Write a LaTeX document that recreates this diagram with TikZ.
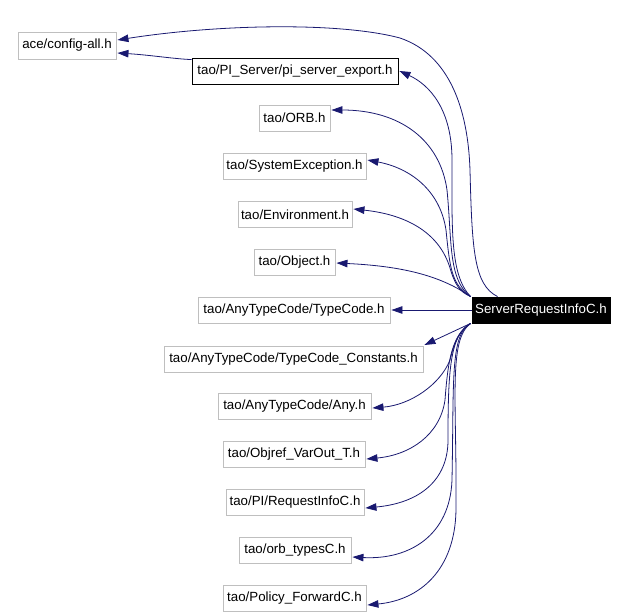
\documentclass[tikz,border=0pt]{standalone}
\usepackage{fontspec}
\setmainfont{Liberation Sans}
\usetikzlibrary{arrows.meta,calc}
\definecolor{edgeblue}{HTML}{191970}
\definecolor{boxgray}{HTML}{BFBFBF}
\begin{document}
\begin{tikzpicture}[x=1pt,y=-1pt,
  box/.style={draw=boxgray,line width=0.9pt,fill=white,inner sep=0pt,minimum height=26pt,font=\fontsize{13.3}{15}\selectfont},
  blackbox/.style={box,draw=black},
  srcbox/.style={box,draw=black,fill=black,text=white},
  edge/.style={draw=edgeblue,line width=0.8pt,{Triangle[length=11pt,width=7.5pt]}-}]
\useasboundingbox (0,0) rectangle (627,616);
\node[box,minimum width=98pt,minimum height=27pt] (cfg) at (67,45.5) {ace/config-all.h};
\node[blackbox,minimum width=206pt] (pi) at (295,71) {tao/PI\_Server/pi\_server\_export.h};
\node[box,minimum width=71pt] (orb) at (294.5,118) {tao/ORB.h};
\node[box,minimum width=143pt] (sysexc) at (294.5,166) {tao/SystemException.h};
\node[box,minimum width=114pt] (env) at (295,214.5) {tao/Environment.h};
\node[box,minimum width=81pt] (obj) at (294.5,262) {tao/Object.h};
\node[box,minimum width=192pt] (tc) at (294,310) {tao/AnyTypeCode/TypeCode.h};
\node[srcbox,minimum width=138pt] (sri) at (541,310) {ServerRequestInfoC.h};
\node[box,minimum width=259pt] (tcc) at (293.5,359) {tao/AnyTypeCode/TypeCode\_Constants.h};
\node[box,minimum width=153pt] (any) at (294.5,406) {tao/AnyTypeCode/Any.h};
\node[box,minimum width=142pt] (objref) at (294,454.5) {tao/Objref\_VarOut\_T.h};
\node[box,minimum width=138pt] (reqinfo) at (295,502) {tao/PI/RequestInfoC.h};
\node[box,minimum width=112pt] (orbtypes) at (295,550) {tao/orb\_typesC.h};
\node[box,minimum width=143pt] (policy) at (294.5,598) {tao/Policy\_ForwardC.h};

% pi -> cfg
\draw[edge] ($(cfg.east)+(1,7.5)$) .. controls (150,55) and (175,59) .. ($(pi.north west)+(0,2)$);
% upper edges
\draw[edge] ($(cfg.east)+(1,-5.5)$) .. controls (220,24) and (340,22) .. (400,38)
  .. controls (450,55) and (468,110) .. (470,170)
  .. controls (472,250) and (474,285) .. ($(sri.north west)+(26,0)$);
\draw[edge] ($(pi.east)+(1,0)$) .. controls (430,85) and (452,110) .. (452,160)
  .. controls (452,230) and (450,275) .. ($(sri.north west)+(-1,0)$);
\draw[edge] ($(orb.east)+(1,-8)$) .. controls (400,110) and (440,140) .. (447,190)
  .. controls (452,240) and (448,280) .. ($(sri.north west)+(-1,0)$);
\draw[edge] ($(sysexc.east)+(1,-6)$) .. controls (410,168) and (440,190) .. (446,230)
  .. controls (450,270) and (452,285) .. ($(sri.north west)+(-1,0)$);
\draw[edge] ($(env.east)+(1,-5.5)$) .. controls (410,215) and (440,235) .. (450,268)
  .. controls (455,285) and (460,292) .. ($(sri.north west)+(-1,0)$);
\draw[edge] ($(obj.east)+(1,1)$) .. controls (400,266) and (440,275) .. ($(sri.north west)+(-1,0)$);
% middle
\draw[edge] ($(tc.east)+(1,0)$) -- (sri.west);
\draw[edge] ($(tcc.east)+(1,-14)$) -- ($(sri.south west)+(-1,0)$);
% lower edges
\draw[edge] ($(any.east)+(1,2)$) .. controls (410,405) and (440,385) .. (450,360)
  .. controls (455,340) and (460,330) .. ($(sri.south west)+(-1,0)$);
\draw[edge] ($(objref.east)+(1,4.5)$) .. controls (410,455) and (440,435) .. (445,400)
  .. controls (448,360) and (452,335) .. ($(sri.south west)+(-1,0)$);
\draw[edge] ($(reqinfo.east)+(1,6)$) .. controls (420,503) and (448,480) .. (448,440)
  .. controls (448,370) and (450,335) .. ($(sri.south west)+(-1,0)$);
\draw[edge] ($(orbtypes.east)+(1,7)$) .. controls (410,560) and (450,535) .. (452,480)
  .. controls (454,380) and (450,335) .. ($(sri.south west)+(-1,0)$);
\draw[edge] ($(policy.east)+(1,7)$) .. controls (420,600) and (455,570) .. (456,510)
  .. controls (457,400) and (448,340) .. ($(sri.south west)+(-1,0)$);
\end{tikzpicture}
\end{document}
